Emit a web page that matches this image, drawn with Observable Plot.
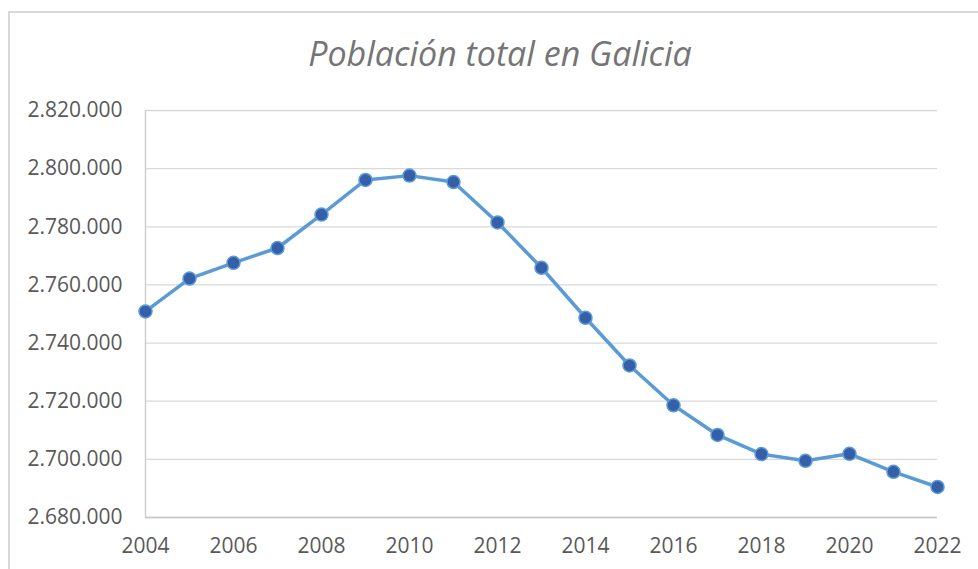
<!DOCTYPE html>
<html><head><meta charset="utf-8">
<script src="https://cdn.jsdelivr.net/npm/d3@7"></script>
<script src="https://cdn.jsdelivr.net/npm/@observablehq/plot@0.6"></script>
<style>
body{margin:0;background:#fff;}
#wrap{position:relative;width:978px;height:569px;overflow:hidden;font-family:"Open Sans",sans-serif;}
#frame{position:absolute;left:8px;top:11px;right:-5px;bottom:-5px;border-left:2px solid #d9d9d9;border-top:2px solid #d9d9d9;}
#title{position:absolute;left:0;width:1000px;top:30px;text-align:center;font-style:italic;font-size:34px;color:#757575;white-space:nowrap;}
#chart{position:absolute;left:0;top:90px;}
</style></head><body>
<div id="wrap"><div id="frame"></div><div id="title">Población total en Galicia</div><div id="chart"></div></div>
<script>
const years = [2004,2005,2006,2007,2008,2009,2010,2011,2012,2013,2014,2015,2016,2017,2018,2019,2020,2021,2022];
const population = [2750900,2762200,2767600,2772700,2784200,2796100,2797600,2795400,2781500,2765900,2748700,2732300,2718600,2708400,2701800,2699500,2701900,2695700,2690500];
const yTicks = [2680000,2700000,2720000,2740000,2760000,2780000,2800000,2820000];
const xTicks = [2004,2006,2008,2010,2012,2014,2016,2018,2020,2022];

const data = years.map((y,i)=>({year:y,pop:population[i]}));
const loc = d3.formatLocale({decimal:",",thousands:".",grouping:[3],currency:["","€"]});
const fmt = loc.format(",d");

const chart = Plot.plot({
  width:978,height:479,
  marginLeft:145,marginRight:41,marginTop:20,marginBottom:52,
  x:{domain:[2004,2022],label:null},
  y:{domain:[2680000,2820000],label:null},
  style:{fontFamily:"Open Sans, sans-serif",fontSize:"21px",color:"#595959",background:"transparent",overflow:"visible"},
  marks:[
    Plot.gridY(yTicks,{stroke:"#d9d9d9",strokeOpacity:1,strokeWidth:1.3}),
    Plot.ruleX([2004],{stroke:"#d0d0d0",strokeWidth:1.5}),
    Plot.ruleY([2680000],{stroke:"#c8c8c8",strokeWidth:1.5}),
    Plot.axisY(yTicks,{tickSize:0,tickPadding:23,tickFormat:fmt,fill:"#595959",label:null}),
    Plot.axisX(xTicks,{tickSize:0,tickPadding:21,tickFormat:d=>String(d),fill:"#595959",label:null}),
    Plot.line(data,{x:"year",y:"pop",stroke:"#5b9bd5",strokeWidth:3.5}),
    Plot.dot(data,{x:"year",y:"pop",r:6.5,fill:"#355fa8",stroke:"#5b9bd5",strokeWidth:1.5})
  ]
});
document.getElementById("chart").appendChild(chart);
</script>
</body></html>
